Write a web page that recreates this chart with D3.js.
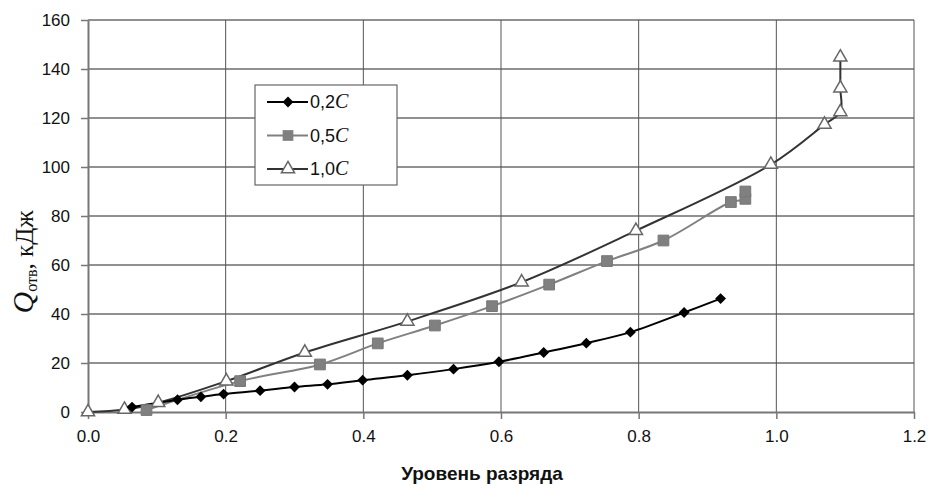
<!DOCTYPE html>
<html>
<head>
<meta charset="utf-8">
<script src="https://cdn.jsdelivr.net/npm/d3@7"></script>
<style>
  body { margin: 0; background: #fff; }
  svg text { font-family: "Liberation Sans", Arial, sans-serif; }
</style>
</head>
<body>
<div id="chart"></div>
<script>
(function () {

  // discharge level (x) vs heat Q (y)
  const x02 = [0.064, 0.13, 0.164, 0.197, 0.25, 0.30, 0.348, 0.399, 0.464, 0.531, 0.597, 0.662, 0.724, 0.788, 0.866, 0.919]
  const y02 = [2.0, 5.0, 6.2, 7.3, 8.7, 10.2, 11.3, 13.0, 15.0, 17.5, 20.5, 24.3, 28.1, 32.6, 40.6, 46.3]

  const x05 = [0.085, 0.221, 0.337, 0.421, 0.504, 0.587, 0.670, 0.754, 0.836, 0.934, 0.955, 0.955]
  const y05 = [0.8, 12.6, 19.4, 28.0, 35.3, 43.2, 52.0, 61.6, 70.0, 85.7, 87.0, 90.0]

  const x10 = [0.0, 0.053, 0.102, 0.201, 0.315, 0.464, 0.630, 0.796, 0.992, 1.070, 1.093, 1.093, 1.093]
  const y10 = [0.0, 1.0, 3.8, 12.6, 24.3, 37.0, 53.0, 74.0, 101.0, 117.4, 122.5, 132.2, 144.8]

  const seriesNames = ["0,2", "0,5", "1,0"]
  const xTicks = [0, 0.2, 0.4, 0.6, 0.8, 1.0, 1.2]
  const yTicks = [0, 20, 40, 60, 80, 100, 120, 140, 160]

  const margin = { top: 20, right: 15, bottom: 74, left: 88 }
  const W = 929, H = 486
  const width = W - margin.left - margin.right
  const height = H - margin.top - margin.bottom

  const svg = d3.select("#chart").append("svg")
      .attr("width", W)
      .attr("height", H)
  const g = svg.append("g")
      .attr("transform", "translate(" + margin.left + "," + margin.top + ")")

  const xScale = d3.scaleLinear().domain([0, 1.2]).range([0, width])
  const yScale = d3.scaleLinear().domain([0, 160]).range([height, 0])

  // grid
  g.append("g").selectAll("line").data(yTicks.slice(1))
    .enter().append("line")
    .attr("x1", 0).attr("x2", width)
    .attr("y1", d => yScale(d)).attr("y2", d => yScale(d))
    .attr("stroke", "#222").attr("stroke-width", 1)
  g.append("g").selectAll("line").data(xTicks.slice(1))
    .enter().append("line")
    .attr("x1", d => xScale(d)).attr("x2", d => xScale(d))
    .attr("y1", 0).attr("y2", height)
    .attr("stroke", "#555").attr("stroke-width", 1)

  // axes
  const yAxis = d3.axisLeft(yScale).tickValues(yTicks).tickSize(7).tickSizeOuter(0).tickPadding(11)
  const xAxis = d3.axisBottom(xScale).tickValues(xTicks).tickSize(7).tickSizeOuter(0).tickPadding(11)
      .tickFormat(d3.format(".1f"))

  const ya = g.append("g").call(yAxis)
  const xa = g.append("g").attr("transform", "translate(0," + height + ")").call(xAxis)
  ;[ya, xa].forEach(a => {
    a.select(".domain").attr("stroke", "#777").attr("stroke-width", 2)
    a.selectAll(".tick line").attr("stroke", "#777").attr("stroke-width", 1.5)
    a.selectAll(".tick text").attr("fill", "#111").style("font-size", "17px")
  })

  // lines
  const line = d3.line()
    .x(d => xScale(d[0]))
    .y(d => yScale(d[1]))
    .curve(d3.curveCatmullRom.alpha(0.5))

  const d02 = x02.map((v, i) => [v, y02[i]])
  const d05 = x05.map((v, i) => [v, y05[i]])
  const d10 = x10.map((v, i) => [v, y10[i]])

  g.append("path").datum(d10).attr("d", line)
    .attr("fill", "none").attr("stroke", "#333").attr("stroke-width", 2)
  g.append("path").datum(d05).attr("d", line)
    .attr("fill", "none").attr("stroke", "#808080").attr("stroke-width", 2)
  g.append("path").datum(d02).attr("d", line)
    .attr("fill", "none").attr("stroke", "#000").attr("stroke-width", 2)

  const diamond = d3.symbol().type(d3.symbolDiamond2).size(75)
  const square = d3.symbol().type(d3.symbolSquare).size(115)
  const triangle = d3.symbol().type(d3.symbolTriangle).size(75)

  g.append("g").selectAll("path").data(d10)
    .enter().append("path")
    .attr("d", triangle)
    .attr("transform", d => "translate(" + xScale(d[0]) + "," + yScale(d[1]) + ")")
    .attr("fill", "#fff").attr("stroke", "#666").attr("stroke-width", 1.5)

  g.append("g").selectAll("path").data(d05)
    .enter().append("path")
    .attr("d", square)
    .attr("transform", d => "translate(" + xScale(d[0]) + "," + yScale(d[1]) + ")")
    .attr("fill", "#808080").attr("stroke", "#777").attr("stroke-width", 1)

  g.append("g").selectAll("path").data(d02)
    .enter().append("path")
    .attr("d", diamond)
    .attr("transform", d => "translate(" + xScale(d[0]) + "," + yScale(d[1]) + ")")
    .attr("fill", "#000")

  // legend
  const leg = svg.append("g").attr("transform", "translate(255,85)")
  leg.append("rect").attr("width", 142).attr("height", 100)
    .attr("fill", "#fff").attr("stroke", "#666").attr("stroke-width", 1.2)
  const legColors = ["#000", "#808080", "#333"]
  const legSymbols = [diamond, square, triangle]
  seriesNames.forEach((name, i) => {
    const yy = 17 + i * 33.5
    leg.append("line").attr("x1", 12).attr("x2", 53).attr("y1", yy).attr("y2", yy)
      .attr("stroke", legColors[i]).attr("stroke-width", 2)
    leg.append("path").attr("d", legSymbols[i])
      .attr("transform", "translate(33," + yy + ")")
      .attr("fill", i === 2 ? "#fff" : legColors[i])
      .attr("stroke", i === 2 ? "#666" : "none").attr("stroke-width", 1.5)
    const t = leg.append("text").attr("x", 55).attr("y", yy + 6).style("font-size", "18px").attr("fill", "#111")
    t.append("tspan").text(name)
    t.append("tspan").text("C").style("font-family", "'Liberation Serif', 'Times New Roman', serif")
      .style("font-style", "italic").style("font-size", "20px")
  })

  // axis titles
  svg.append("text")
    .attr("x", 482)
    .attr("y", 480)
    .attr("text-anchor", "middle")
    .style("font-weight", "bold")
    .style("font-size", "19px")
    .attr("fill", "#111")
    .text("Уровень разряда")

  const yt = svg.append("text")
    .attr("transform", "translate(33,262) rotate(-90)")
    .attr("text-anchor", "middle")
    .style("font-family", "'Liberation Serif', 'Times New Roman', serif")
    .attr("fill", "#111")
  yt.append("tspan").text("Q").style("font-style", "italic").style("font-size", "30px")
  yt.append("tspan").text("отв").style("font-size", "16px").attr("dy", 4)
  yt.append("tspan").text(",  кДж").style("font-size", "25px").attr("dy", -4)

})();
</script>
</body>
</html>
